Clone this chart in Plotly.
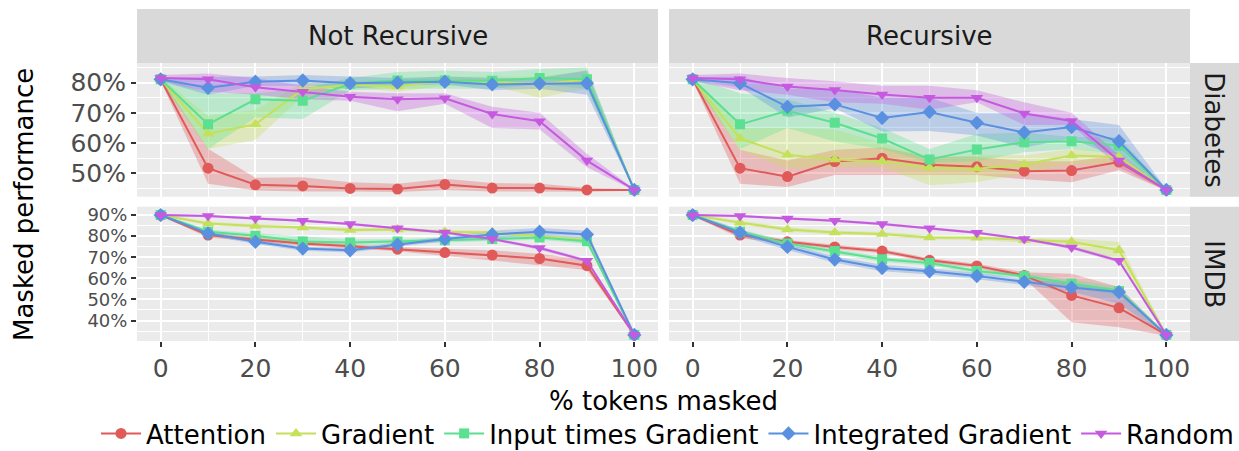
import plotly.graph_objects as go

# ---------------- data ----------------
PCT_MASKED = [0, 10, 20, 30, 40, 50, 60, 70, 80, 90, 100]
X_TICKS = [0, 20, 40, 60, 80, 100]
METHODS = ["Attention", "Gradient", "Input times Gradient", "Integrated Gradient", "Random"]
COLORS = ["#E05A5A", "#C5E05A", "#5AE090", "#5A90E0", "#C55AE0"]
SYMBOLS = ["circle", "triangle-up", "square", "diamond", "triangle-down"]
DATASETS = ["Diabetes", "IMDB"]
MODES = ["Not Recursive", "Recursive"]

# Diabetes, Not Recursive
DN_ATT = [81.1, 51.7, 46.2, 45.8, 45.0, 44.8, 46.3, 45.1, 45.1, 44.5, 44.5]
DN_ATT_LO = [80.5, 46.5, 44.3, 44.0, 44.0, 43.8, 44.5, 44.0, 44.0, 43.9, 44.2]
DN_ATT_HI = [81.8, 58.1, 48.5, 48.7, 47.0, 46.5, 48.2, 46.8, 46.5, 45.2, 44.8]
DN_GRA = [81.1, 63.1, 66.2, 77.8, 79.2, 78.7, 80.7, 80.3, 79.4, 81.1, 44.5]
DN_GRA_LO = [80.5, 58.0, 61.0, 75.5, 78.5, 77.0, 79.0, 79.0, 75.0, 78.0, 44.2]
DN_GRA_HI = [81.8, 69.0, 71.0, 80.0, 80.5, 81.0, 82.0, 82.0, 82.0, 84.0, 44.8]
DN_IXG = [81.1, 66.2, 74.5, 74.0, 79.6, 80.7, 80.7, 80.6, 81.5, 81.1, 44.5]
DN_IXG_LO = [80.5, 58.0, 68.5, 68.0, 77.5, 78.0, 78.0, 78.0, 79.5, 78.0, 44.2]
DN_IXG_HI = [81.8, 76.5, 76.5, 78.0, 81.5, 83.5, 84.0, 83.5, 84.5, 85.0, 44.8]
DN_IG = [81.1, 78.3, 80.3, 80.7, 79.8, 80.0, 80.3, 79.4, 79.7, 79.8, 44.5]
DN_IG_LO = [80.5, 76.0, 79.0, 79.0, 78.0, 79.0, 79.5, 77.5, 78.0, 76.0, 44.2]
DN_IG_HI = [81.8, 82.0, 82.0, 82.5, 82.0, 81.5, 82.0, 81.5, 81.5, 84.0, 44.8]
DN_RND = [81.5, 81.1, 78.5, 77.0, 75.3, 74.5, 74.8, 69.6, 67.2, 54.2, 44.5]
DN_RND_LO = [80.5, 77.0, 76.0, 74.5, 74.0, 70.5, 73.0, 65.0, 64.5, 52.0, 44.2]
DN_RND_HI = [82.5, 83.0, 81.5, 79.0, 77.0, 76.5, 76.5, 72.0, 70.0, 56.5, 44.8]

# Diabetes, Recursive
DR_ATT = [81.1, 51.7, 48.9, 53.9, 55.0, 52.8, 52.2, 50.7, 50.9, 53.7, 44.5]
DR_ATT_LO = [80.5, 46.5, 45.5, 49.4, 49.4, 49.4, 49.4, 48.0, 47.0, 51.0, 44.2]
DR_ATT_HI = [81.8, 57.8, 54.2, 57.8, 58.5, 55.5, 55.5, 54.0, 54.0, 56.0, 44.8]
DR_GRA = [81.1, 61.5, 56.1, 54.6, 54.0, 51.8, 51.5, 52.9, 55.9, 55.4, 44.5]
DR_GRA_LO = [80.5, 57.5, 51.5, 52.0, 52.0, 46.0, 47.0, 50.0, 53.0, 53.0, 44.2]
DR_GRA_HI = [81.8, 65.0, 65.0, 64.5, 60.0, 55.0, 56.0, 56.0, 58.0, 57.0, 44.8]
DR_IXG = [81.1, 66.2, 70.7, 66.7, 61.5, 54.6, 57.9, 60.3, 60.6, 59.2, 44.5]
DR_IXG_LO = [80.5, 58.0, 65.0, 60.5, 58.0, 53.5, 54.0, 57.0, 58.0, 56.5, 44.2]
DR_IXG_HI = [81.8, 76.5, 74.5, 70.0, 65.0, 58.0, 63.0, 63.5, 62.0, 62.0, 44.8]
DR_IG = [81.1, 79.8, 72.0, 72.8, 68.3, 70.3, 66.7, 63.5, 65.3, 60.6, 44.5]
DR_IG_LO = [80.5, 78.5, 68.5, 71.5, 63.8, 64.0, 62.5, 58.5, 61.5, 55.0, 44.2]
DR_IG_HI = [81.8, 82.0, 78.0, 78.0, 75.0, 75.0, 70.0, 70.0, 68.0, 66.0, 44.8]
DR_RND = [81.5, 81.1, 78.7, 77.6, 76.1, 75.0, 75.0, 69.8, 67.3, 54.2, 44.5]
DR_RND_LO = [80.5, 77.5, 76.0, 73.5, 73.0, 71.0, 73.5, 66.0, 66.0, 52.0, 44.2]
DR_RND_HI = [82.5, 83.0, 81.5, 80.5, 79.0, 79.0, 77.5, 73.5, 70.0, 56.0, 44.8]

# IMDB, Not Recursive
IN_ATT = [90.0, 80.5, 78.4, 76.5, 75.2, 73.8, 72.2, 71.0, 69.4, 66.0, 33.2]
IN_ATT_LO = [89.5, 79.4, 77.5, 75.5, 74.3, 72.8, 70.5, 68.6, 66.2, 64.0, 32.8]
IN_ATT_HI = [90.5, 81.6, 79.3, 77.5, 76.1, 74.8, 74.0, 73.3, 71.7, 68.6, 33.6]
IN_GRA = [90.0, 86.0, 84.8, 84.1, 82.9, 83.2, 82.1, 81.7, 80.0, 78.1, 33.2]
IN_GRA_LO = [89.5, 85.2, 84.0, 83.3, 82.1, 82.4, 81.3, 80.9, 79.2, 77.0, 32.8]
IN_GRA_HI = [90.5, 86.8, 85.6, 84.9, 83.7, 84.0, 82.9, 82.5, 80.8, 79.2, 33.6]
IN_IXG = [90.0, 82.1, 80.2, 77.5, 77.0, 77.5, 78.1, 78.6, 79.4, 77.6, 33.2]
IN_IXG_LO = [89.5, 81.1, 79.0, 75.8, 75.5, 76.3, 77.0, 77.5, 78.3, 76.3, 32.8]
IN_IXG_HI = [90.5, 83.1, 81.4, 79.8, 78.5, 78.7, 79.2, 79.7, 80.5, 78.9, 33.6]
IN_IG = [90.0, 81.3, 77.3, 74.1, 73.3, 76.0, 78.6, 80.8, 82.1, 80.8, 33.2]
IN_IG_LO = [89.5, 80.3, 76.3, 73.1, 72.3, 75.0, 77.4, 79.0, 80.3, 79.0, 32.8]
IN_IG_HI = [90.5, 82.3, 78.3, 75.1, 74.3, 77.0, 79.8, 82.6, 83.9, 82.6, 33.6]
IN_RND = [90.0, 89.5, 88.4, 87.3, 85.7, 83.7, 81.7, 78.6, 74.4, 68.3, 33.2]
IN_RND_LO = [89.5, 88.9, 87.8, 86.7, 85.1, 83.1, 81.1, 78.0, 73.6, 67.5, 32.8]
IN_RND_HI = [90.5, 90.1, 89.0, 87.9, 86.3, 84.3, 82.3, 79.2, 75.2, 69.1, 33.6]

# IMDB, Recursive
IR_ATT = [90.0, 80.5, 77.3, 74.9, 72.9, 68.6, 65.9, 61.4, 51.9, 46.0, 33.2]
IR_ATT_LO = [89.5, 79.0, 76.3, 73.9, 71.9, 67.6, 64.9, 59.9, 39.2, 36.8, 32.8]
IR_ATT_HI = [90.5, 82.0, 78.3, 75.9, 73.9, 69.6, 66.9, 62.9, 62.2, 55.9, 33.6]
IR_GRA = [90.0, 86.4, 83.2, 81.7, 81.0, 79.4, 79.2, 78.1, 77.3, 73.3, 33.2]
IR_GRA_LO = [89.5, 85.4, 82.2, 80.7, 80.0, 78.4, 78.2, 77.1, 75.7, 67.8, 32.8]
IR_GRA_HI = [90.5, 87.4, 84.2, 82.7, 82.0, 80.4, 80.2, 79.1, 78.9, 77.3, 33.6]
IR_IXG = [90.0, 82.1, 76.5, 72.9, 69.0, 67.3, 63.5, 61.1, 57.5, 54.0, 33.2]
IR_IXG_LO = [89.5, 80.9, 75.3, 71.7, 67.8, 66.1, 62.3, 59.9, 55.5, 52.0, 32.8]
IR_IXG_HI = [90.5, 83.3, 77.7, 74.1, 70.2, 68.5, 64.7, 62.3, 59.5, 56.0, 33.6]
IR_IG = [90.0, 81.6, 74.9, 68.9, 64.9, 63.3, 61.1, 58.3, 55.6, 53.5, 33.2]
IR_IG_LO = [89.5, 80.1, 73.4, 67.4, 63.4, 61.8, 59.6, 56.8, 53.6, 48.0, 32.8]
IR_IG_HI = [90.5, 83.1, 76.4, 70.4, 66.4, 64.8, 62.6, 59.8, 57.6, 55.0, 33.6]
IR_RND = [90.0, 89.5, 88.4, 87.3, 85.7, 83.7, 81.6, 78.6, 74.6, 68.3, 33.2]
IR_RND_LO = [89.5, 88.9, 87.8, 86.7, 85.1, 83.1, 81.0, 78.0, 73.8, 67.5, 32.8]
IR_RND_HI = [90.5, 90.1, 89.0, 87.9, 86.3, 84.3, 82.2, 79.2, 75.4, 69.1, 33.6]

PANELS = {
    ("Diabetes", "Not Recursive"): [
        (DN_ATT, DN_ATT_LO, DN_ATT_HI), (DN_GRA, DN_GRA_LO, DN_GRA_HI),
        (DN_IXG, DN_IXG_LO, DN_IXG_HI), (DN_IG, DN_IG_LO, DN_IG_HI),
        (DN_RND, DN_RND_LO, DN_RND_HI)],
    ("Diabetes", "Recursive"): [
        (DR_ATT, DR_ATT_LO, DR_ATT_HI), (DR_GRA, DR_GRA_LO, DR_GRA_HI),
        (DR_IXG, DR_IXG_LO, DR_IXG_HI), (DR_IG, DR_IG_LO, DR_IG_HI),
        (DR_RND, DR_RND_LO, DR_RND_HI)],
    ("IMDB", "Not Recursive"): [
        (IN_ATT, IN_ATT_LO, IN_ATT_HI), (IN_GRA, IN_GRA_LO, IN_GRA_HI),
        (IN_IXG, IN_IXG_LO, IN_IXG_HI), (IN_IG, IN_IG_LO, IN_IG_HI),
        (IN_RND, IN_RND_LO, IN_RND_HI)],
    ("IMDB", "Recursive"): [
        (IR_ATT, IR_ATT_LO, IR_ATT_HI), (IR_GRA, IR_GRA_LO, IR_GRA_HI),
        (IR_IXG, IR_IXG_LO, IR_IXG_HI), (IR_IG, IR_IG_LO, IR_IG_HI),
        (IR_RND, IR_RND_LO, IR_RND_HI)],
}

Y_RANGES = {"Diabetes": [42.25, 86.5], "IMDB": [30.3, 93.95]}
Y_TICK_SIZE = {"Diabetes": 25, "IMDB": 18}

# ---------------- layout geometry (pixels of a 1239x451 canvas) ----------------
W, H = 1239, 451
FONT = "DejaVu Sans"
COL_PX = {"Not Recursive": (137, 658), "Recursive": (669, 1190)}
ROW_PX = {"Diabetes": (63, 196.7), "IMDB": (206.7, 341)}
STRIP_TOP = (9, 63)
STRIP_RIGHT = (1190, 1239)


def xdom(px):
    return [px[0] / W, px[1] / W]


def ydom(px):
    return [1 - px[1] / H, 1 - px[0] / H]


def rgba(hexc, a):
    h = hexc.lstrip("#")
    r, g, b = int(h[0:2], 16), int(h[2:4], 16), int(h[4:6], 16)
    return f"rgba({r},{g},{b},{a})"


fig = go.Figure()

layout_axes = {}
idx = 0
for ds in DATASETS:
    for mode in MODES:
        idx += 1
        xa = "x" if idx == 1 else f"x{idx}"
        ya = "y" if idx == 1 else f"y{idx}"
        series = PANELS[(ds, mode)]
        # ribbons first
        for m, (mean, lo, hi) in enumerate(series):
            fig.add_trace(go.Scatter(
                x=PCT_MASKED + PCT_MASKED[::-1], y=hi + lo[::-1],
                fill="toself", fillcolor=rgba(COLORS[m], 0.33),
                line=dict(width=0), mode="lines", hoverinfo="skip",
                showlegend=False, xaxis=xa, yaxis=ya))
        for m, (mean, lo, hi) in enumerate(series):
            fig.add_trace(go.Scatter(
                x=PCT_MASKED, y=mean, mode="lines+markers", name=METHODS[m],
                legendgroup=METHODS[m], showlegend=(idx == 1),
                line=dict(color=COLORS[m], width=2),
                marker=dict(color=COLORS[m], symbol=SYMBOLS[m],
                            size=11 if SYMBOLS[m] != "square" else 10,
                            line=dict(width=0)),
                xaxis=xa, yaxis=ya))

        bottom = ds == "IMDB"
        left = mode == "Not Recursive"
        xkey = "xaxis" if idx == 1 else f"xaxis{idx}"
        ykey = "yaxis" if idx == 1 else f"yaxis{idx}"
        layout_axes[xkey] = dict(
            domain=xdom(COL_PX[mode]), anchor=ya, range=[-5, 105],
            tickmode="array", tickvals=X_TICKS, automargin=False,
            showticklabels=bottom, ticks="outside" if bottom else "",
            ticklen=5, tickwidth=1.5, tickcolor="#333333",
            tickfont=dict(family=FONT, size=25, color="#4D4D4D"),
            showgrid=True, gridcolor="white", gridwidth=2.2, zeroline=False,
            showline=False,
            minor=dict(tickvals=[10, 30, 50, 70, 90], showgrid=True,
                       gridcolor="white", gridwidth=1.1),
        )
        layout_axes[ykey] = dict(
            domain=ydom(ROW_PX[ds]), anchor=xa, range=Y_RANGES[ds],
            tickmode="linear", tick0=0, dtick=10, ticksuffix="%", automargin=False,
            showticklabels=left, ticks="outside" if left else "",
            ticklen=5, tickwidth=1.5, tickcolor="#333333",
            tickfont=dict(family=FONT, size=Y_TICK_SIZE[ds], color="#4D4D4D"),
            showgrid=True, gridcolor="white", gridwidth=2.2, zeroline=False,
            showline=False,
            minor=dict(tick0=0, dtick=5, showgrid=True,
                       gridcolor="white", gridwidth=1.1),
        )

shapes = []
annotations = []
for mode in MODES:
    d = xdom(COL_PX[mode])
    sd = ydom(STRIP_TOP)
    shapes.append(dict(type="rect", xref="paper", yref="paper", x0=d[0], x1=d[1],
                       y0=sd[0], y1=sd[1], fillcolor="#D9D9D9", line=dict(width=0),
                       layer="below"))
    annotations.append(dict(text=mode, xref="paper", yref="paper",
                            x=(d[0] + d[1]) / 2, y=(sd[0] + sd[1]) / 2,
                            showarrow=False, xanchor="center", yanchor="middle",
                            font=dict(family=FONT, size=26, color="#1A1A1A")))
for ds in DATASETS:
    d = ydom(ROW_PX[ds])
    sx = xdom(STRIP_RIGHT)
    shapes.append(dict(type="rect", xref="paper", yref="paper", x0=sx[0], x1=sx[1],
                       y0=d[0], y1=d[1], fillcolor="#D9D9D9", line=dict(width=0),
                       layer="below"))
    annotations.append(dict(text=ds, xref="paper", yref="paper",
                            x=(sx[0] + sx[1]) / 2, y=(d[0] + d[1]) / 2, textangle=90,
                            showarrow=False, xanchor="center", yanchor="middle",
                            font=dict(family=FONT, size=26, color="#1A1A1A")))

annotations.append(dict(text="Masked performance", xref="paper", yref="paper",
                        x=24 / W, y=1 - 205 / H, textangle=-90, showarrow=False,
                        xanchor="center", yanchor="middle",
                        font=dict(family=FONT, size=26, color="black")))
annotations.append(dict(text="% tokens masked", xref="paper", yref="paper",
                        x=663.5 / W, y=1 - 401 / H, showarrow=False,
                        xanchor="center", yanchor="middle",
                        font=dict(family=FONT, size=26, color="black")))

fig.update_layout(
    width=W, height=H, margin=dict(l=0, r=0, t=0, b=0, autoexpand=False),
    paper_bgcolor="white", plot_bgcolor="#EBEBEB",
    font=dict(family=FONT, size=25, color="black"),
    shapes=shapes, annotations=annotations,
    legend=dict(orientation="h", x=1.0, y=-6 / H, xanchor="right",
                yanchor="bottom", font=dict(family=FONT, size=26, color="black"),
                bgcolor="rgba(0,0,0,0)", itemwidth=40, tracegroupgap=0),
    **layout_axes,
)

fig.write_html(
    "out.html",
    config={"displayModeBar": False},
    post_script="document.body.style.margin='0px';document.body.style.overflow='hidden';",
)
